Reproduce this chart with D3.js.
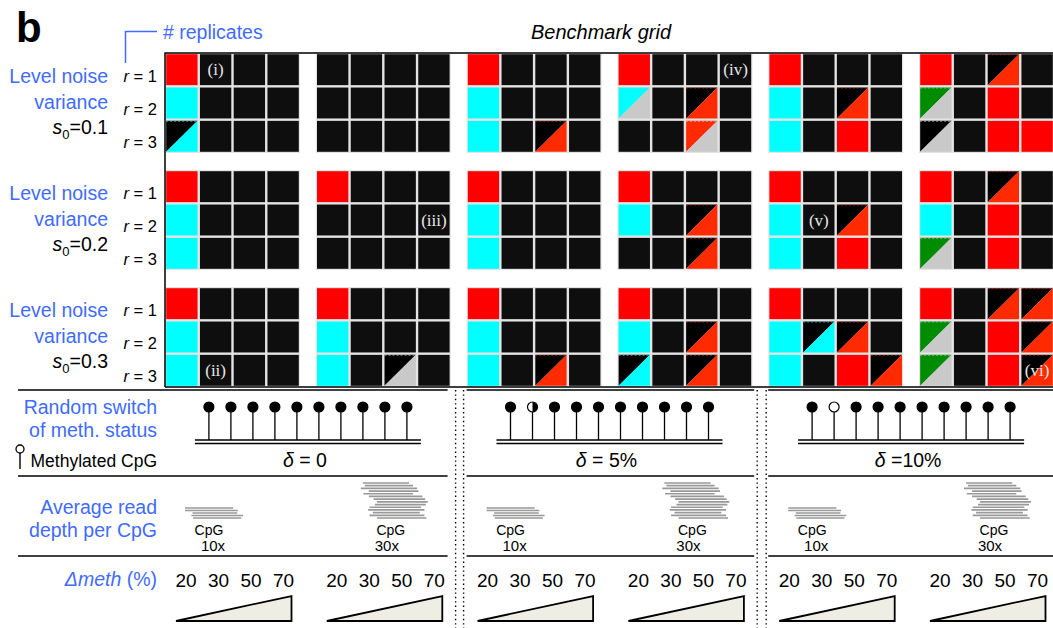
<!DOCTYPE html>
<html>
<head>
<meta charset="utf-8">
<style type="text/css">
body { margin: 0; background: #fff; }
svg text { font-family: "Liberation Sans", Arial, sans-serif; }
.blue { fill: #3f6bff; }
.roman { font-family: "Liberation Serif", "DejaVu Serif", serif !important; fill: #e8e8e8; }
</style>
<title>Benchmark grid</title>
</head>
<body>
<div id="chart"></div>
<script src="https://d3js.org/d3.v7.min.js"></script>
<script>

// ---- data ----
const noiseLevels = ["0.1", "0.2", "0.3"];
const replicates = [1, 2, 3];
const dmeth = [20, 30, 50, 70];
const deltaLabels = ["0", "5%", "10%"];
const depths = ["10x", "30x"];

// cell codes per block (6 blocks = 3 deltas x 2 depths), one string per replicate row
// K black, R red, C cyan, G grey, N green, O orange-red; "A/B" = upper-left A, lower-right B
const grid_s01 = [
  ["R K K K", "C K K K", "K/C K K K"],
  ["K K K K", "K K K K", "K K K K"],
  ["R K K K", "C K K K", "C K K/O K"],
  ["R K K K", "C/G K K/O K", "K K O/G K"],
  ["R K K K", "C K K/O K", "C K R K"],
  ["R K K/O K", "N/G K R K", "K/G K R R"]
];
const grid_s02 = [
  ["R K K K", "C K K K", "C K K K"],
  ["R K K K", "K K K K", "K K K K"],
  ["R K K K", "C K K K", "C K K K"],
  ["R K K K", "C K K/O K", "K K K/O K"],
  ["R K K K", "C K K/O K", "C K R K"],
  ["R K K/O K", "C K R K", "N/G K R K"]
];
const grid_s03 = [
  ["R K K K", "C K K K", "C K K K"],
  ["R K K K", "C K K K", "C K K/G K"],
  ["R K K K", "C K K K", "C K K/O K"],
  ["R K K K", "C K K/O K", "K/C K K/O K"],
  ["R K K K", "C K/C K/O K", "C K R K/O"],
  ["R K K/O K/O", "N/G K R K/O", "N/G K R K/O"]
];
const grids = [grid_s01, grid_s02, grid_s03];

// case labels: [text, block, level, replicate, dmeth]
const caseLabels = [
  ["(i)", 0, 0, 1, 30], ["(ii)", 0, 2, 3, 30], ["(iii)", 1, 1, 2, 70],
  ["(iv)", 3, 0, 1, 70], ["(v)", 4, 1, 2, 30], ["(vi)", 5, 2, 3, 70]
];

// methylation status of the 10 CpGs (1 methylated, 0.5 half, 0 unmethylated)
const meth_d0 = [1, 1, 1, 1, 1, 1, 1, 1, 1, 1];
const meth_d5 = [1, 0.5, 1, 1, 1, 1, 1, 1, 1, 1];
const meth_d10 = [1, 0, 1, 1, 1, 1, 1, 1, 1, 1];
const methStatus = [meth_d0, meth_d5, meth_d10];

// read extents as fractions of the stack width
const reads10 = [[0, 0.83], [0, 0.91], [0.13, 0.9], [0.11, 1.0], [0.14, 0.97]];
const reads30 = [[0.03, 0.72], [0.06, 0.78], [0, 0.84], [0.12, 0.86], [0.04, 0.78], [0.12, 0.92],
  [0.19, 0.96], [0.24, 1.0], [0.21, 0.97], [0.13, 0.9], [0.11, 0.95], [0.18, 0.88], [0.13, 0.95], [0.24, 0.98]];

const colors = { K: "#0e0e0e", R: "#ff0000", C: "#00ffff", G: "#c9c9c9", N: "#008c00", O: "#ff2a00" };

// ---- layout ----
const W = 1053, H = 628;
const blockW = 135, blockH = 100;
const blockX = d3.scaleLinear().domain([0, 5]).range([165, 919]);
const levelY = d3.scaleLinear().domain([0, 2]).range([53, 287]);
const col = d3.scaleBand().domain(dmeth).range([0, blockW]);
const row = d3.scaleBand().domain(replicates).range([0, blockH]);
const gridBottom = levelY(2) + blockH;
const labelRight = 157;

const svg = d3.select("#chart").append("svg")
  .attr("width", W).attr("height", H);

// panel letter + headers
svg.append("text").attr("x", 16).attr("y", 42)
  .style("font-size", "42px").style("font-weight", "bold").text("b");
svg.append("text").attr("x", 601).attr("y", 32).attr("text-anchor", "middle")
  .attr("dominant-baseline", "central")
  .style("font-size", "20px").style("font-style", "italic").text("Benchmark grid");
svg.append("path").attr("d", "M125.5,63 V31.5 H157")
  .attr("fill", "none").attr("stroke", "#3f6bff").attr("stroke-width", 1.5);
svg.append("text").attr("class", "blue").attr("x", 163).attr("y", 32)
  .attr("dominant-baseline", "central").style("font-size", "19.5px").text("# replicates");

// ---- benchmark grid ----
grids.forEach((grid, li) => {
  const y0 = levelY(li);
  // left labels
  const lab = svg.append("g");
  lab.append("text").attr("class", "blue").attr("x", 108).attr("y", y0 + 23)
    .attr("text-anchor", "end").attr("dominant-baseline", "central")
    .style("font-size", "19.5px").text("Level noise");
  lab.append("text").attr("class", "blue").attr("x", 108).attr("y", y0 + 49)
    .attr("text-anchor", "end").attr("dominant-baseline", "central")
    .style("font-size", "19.5px").text("variance");
  const s = lab.append("text").attr("x", 108).attr("y", y0 + 81)
    .attr("text-anchor", "end").style("font-size", "19.5px");
  s.append("tspan").style("font-style", "italic").text("s");
  s.append("tspan").attr("dy", 5).style("font-size", "13px").text("0");
  s.append("tspan").attr("dy", -5).text("=" + noiseLevels[li]);
  replicates.forEach(r => {
    const t = lab.append("text").attr("x", labelRight).attr("y", y0 + row(r) + row.bandwidth() / 2 + 6)
      .attr("text-anchor", "end").attr("dominant-baseline", "central").style("font-size", "16.5px");
    t.append("tspan").style("font-style", "italic").text("r");
    t.append("tspan").text(" = " + r);
  });

  grid.forEach((block, bi) => {
    const x0 = blockX(bi);
    const g = svg.append("g").attr("transform", `translate(${x0},${y0})`);
    g.append("rect").attr("width", Math.min(blockW, W - x0)).attr("height", blockH).attr("fill", "#e4e4e4");
    const cells = [];
    block.forEach((line, ri) => {
      line.split(" ").forEach((code, ci) => {
        cells.push({ r: replicates[ri], c: dmeth[ci], code: code });
      });
    });
    const cw = col.bandwidth() - 2.4, ch = row.bandwidth() - 2.4;
    const cg = g.selectAll("g.cell").data(cells).join("g")
      .attr("class", "cell")
      .attr("transform", d => `translate(${col(d.c) + 1.2},${row(d.r) + 1.2})`);
    cg.filter(d => !d.code.includes("/"))
      .append("rect").attr("width", cw).attr("height", ch).attr("fill", d => colors[d.code]);
    const split = cg.filter(d => d.code.includes("/"));
    split.append("path").attr("d", `M0,0 H${cw} L0,${ch} Z`)
      .attr("fill", d => d.code[0] === "K" ? "#000" : colors[d.code[0]]);
    split.append("path").attr("d", `M${cw},0 V${ch} H0 Z`)
      .attr("fill", d => colors[d.code[2]]);
    split.append("line").attr("x1", 0).attr("x2", cw).attr("y1", 0.5).attr("y2", 0.5)
      .attr("stroke", d => colors[d.code[2]]).attr("stroke-width", 1)
      .attr("stroke-dasharray", "2,2").attr("opacity", 0.6);
  });
});

caseLabels.forEach(([t, b, l, r, c]) => {
  svg.append("text").attr("class", "roman")
    .attr("x", blockX(b) + col(c) + col.bandwidth() / 2)
    .attr("y", levelY(l) + row(r) + row.bandwidth() / 2)
    .attr("text-anchor", "middle").attr("dominant-baseline", "central")
    .style("font-size", "17px").text(t);
});

// grid frame
svg.append("path").attr("d", `M${blockX(0)},${gridBottom} V${levelY(0)} H${W} M${blockX(0)},${gridBottom} H${W}`)
  .attr("fill", "none").attr("stroke", "#000").attr("stroke-width", 1.5);

// ---- lower sections ----
const dotA = [blockX(2) - 11, blockX(4) - 11];
const dotB = [blockX(2) - 3, blockX(4) - 2];
const segs = [[18, dotA[0] - 8], [dotB[0] + 3, dotA[1] - 3], [dotB[1] + 2, W]];
const sepY = [gridBottom + 3, 476, 556];

segs.forEach(([a, b]) => {
  sepY.forEach(y => {
    svg.append("line").attr("x1", a).attr("x2", b).attr("y1", y).attr("y2", y)
      .attr("stroke", "#000").attr("stroke-width", 1.3);
  });
});
dotA.concat(dotB).forEach(x => {
  svg.append("line").attr("x1", x).attr("x2", x).attr("y1", gridBottom + 3).attr("y2", H)
    .attr("stroke", "#000").attr("stroke-width", 1.4).attr("stroke-dasharray", "1.4,3");
});

// left labels of lower sections
function leftLabel(txt, y, cls, size) {
  return svg.append("text").attr("class", cls).attr("x", labelRight).attr("y", y)
    .attr("text-anchor", "end").attr("dominant-baseline", "central")
    .style("font-size", size).text(txt);
}
leftLabel("Random switch", 407, "blue", "19.5px");
leftLabel("of meth. status", 430, "blue", "19.5px");
leftLabel("Methylated CpG", 461, "", "17.5px");
svg.append("line").attr("x1", 20).attr("x2", 20).attr("y1", 453).attr("y2", 469)
  .attr("stroke", "#000").attr("stroke-width", 1.4);
svg.append("circle").attr("cx", 20).attr("cy", 449).attr("r", 4)
  .attr("fill", "#fff").attr("stroke", "#000").attr("stroke-width", 1.3);
leftLabel("Average read", 507, "blue", "19.5px");
leftLabel("depth per CpG", 530, "blue", "19.5px");
const dm = leftLabel("", 579, "blue", "19.5px");
dm.append("tspan").style("font-style", "italic").text("\u0394meth");
dm.append("tspan").text(" (%)");

// lollipops
const headY = 407, stemY = 440;
methStatus.forEach((status, si) => {
  const cx = (blockX(2 * si) + blockX(2 * si + 1) + blockW) / 2;
  const lx = d3.scaleLinear().domain([0, status.length - 1]).range([cx - 99, cx + 99]);
  const g = svg.append("g");
  [stemY, stemY + 3.5].forEach(y => {
    g.append("line").attr("x1", cx - 113).attr("x2", cx + 113).attr("y1", y).attr("y2", y)
      .attr("stroke", "#000").attr("stroke-width", 1.5);
  });
  const lp = g.selectAll("g.lp").data(status).join("g").attr("class", "lp")
    .attr("transform", (d, i) => `translate(${lx(i)},0)`);
  lp.append("line").attr("y1", headY).attr("y2", stemY).attr("stroke", "#000").attr("stroke-width", 1.3);
  lp.append("circle").attr("cy", headY).attr("r", 5)
    .attr("fill", d => d === 1 ? "#000" : "#fff").attr("stroke", "#000").attr("stroke-width", 1.2);
  lp.filter(d => d === 0.5).append("path")
    .attr("d", `M0,${headY - 5} A5,5 0 0 1 0,${headY + 5} Z`).attr("fill", "#000");
  const t = svg.append("text").attr("x", cx - 3).attr("y", 460)
    .attr("text-anchor", "middle").attr("dominant-baseline", "central").style("font-size", "19.5px");
  t.append("tspan").style("font-style", "italic").text("\u03b4");
  t.append("tspan").text(si === 2 ? " =" + deltaLabels[si] : " = " + deltaLabels[si]);
});

// read depth stacks
depths.forEach((dep, di) => {
  const reads = di === 0 ? reads10 : reads30;
  d3.range(3).forEach(si => {
    const b = 2 * si + di;
    const x0 = blockX(b) + (di === 0 ? 20 : 45);
    const rx = d3.scaleLinear().domain([0, 1]).range([x0, x0 + (di === 0 ? 58 : 67)]);
    const ry = d3.scaleLinear().domain([0, reads.length - 1]).range([di === 0 ? 508 : 483, 518]);
    svg.append("g").selectAll("line").data(reads).join("line")
      .attr("x1", d => rx(d[0])).attr("x2", d => rx(d[1]))
      .attr("y1", (d, i) => ry(i)).attr("y2", (d, i) => ry(i))
      .attr("stroke", "#999").attr("stroke-width", 1.7);
    const lx = blockX(b) + (di === 0 ? 44 : 75);
    svg.append("text").attr("x", lx).attr("y", 530).attr("text-anchor", "middle")
      .attr("dominant-baseline", "central").style("font-size", "14px").text("CpG");
    svg.append("text").attr("x", lx + (di === 0 ? 4 : -4)).attr("y", 545).attr("text-anchor", "middle")
      .attr("dominant-baseline", "central").style("font-size", "15px").text(dep);
  });
});

// delta-meth wedges
d3.range(6).forEach(b => {
  const nx = d3.scalePoint().domain(dmeth).range([blockX(b) + 21, blockX(b) + 118.5]);
  svg.append("g").selectAll("text").data(dmeth).join("text")
    .attr("x", d => nx(d)).attr("y", 580).attr("text-anchor", "middle")
    .attr("dominant-baseline", "central").style("font-size", "19px").text(d => d);
  const a = nx(20) - 10, e = nx(70) + 8;
  svg.append("path").attr("d", `M${a},621 H${e} V596 Z`)
    .attr("fill", "#eeeee5").attr("stroke", "#000").attr("stroke-width", 1.8)
    .attr("stroke-linejoin", "miter");
});

</script>
</body>
</html>
